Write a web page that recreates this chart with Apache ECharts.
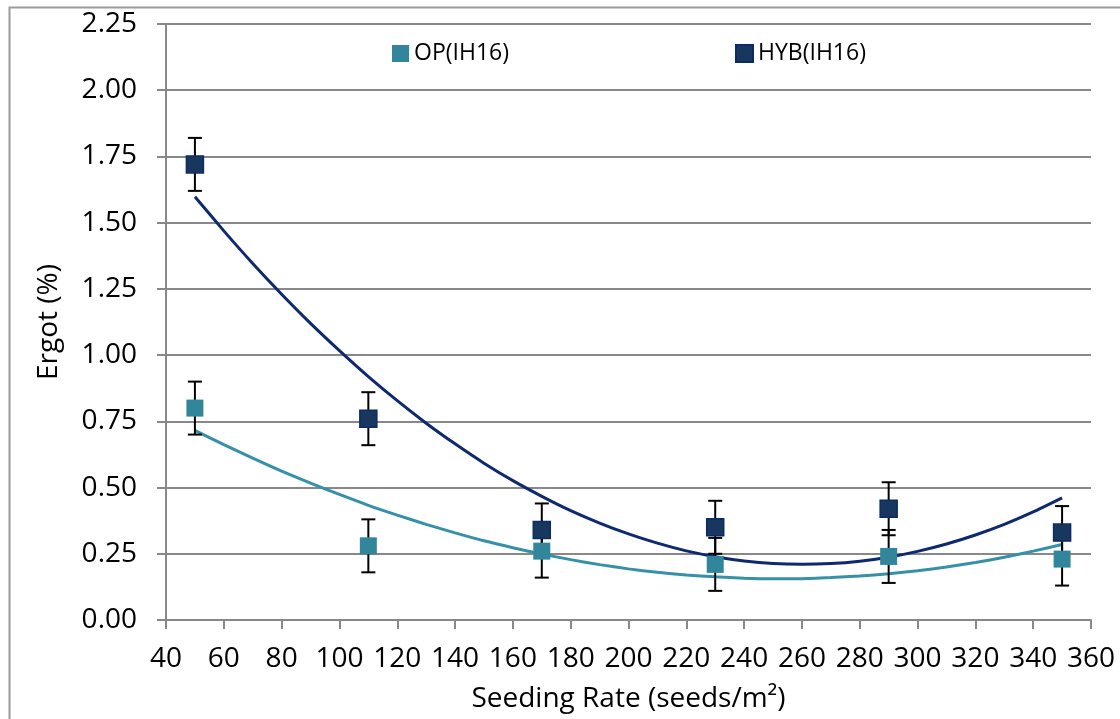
<!DOCTYPE html>
<html>
<head>
<meta charset="utf-8">
<script src="https://cdn.jsdelivr.net/npm/echarts@6/dist/echarts.min.js"></script>
<style>
  html, body { margin: 0; padding: 0; background: #fff; }
  #chart { width: 1120px; height: 719px; }
</style>
</head>
<body>
<div id="chart"></div>
<script>
// ---- Data ----
var seedingRates = [50, 110, 170, 230, 290, 350];
var opErgot  = [0.80, 0.28, 0.26, 0.21, 0.24, 0.23];
var hybErgot = [1.72, 0.76, 0.34, 0.35, 0.42, 0.33];
var opError  = [0.10, 0.10, 0.10, 0.10, 0.10, 0.10];
var hybError = [0.10, 0.10, 0.10, 0.10, 0.10, 0.10];

// trendline points (every 10 seeds/m²)
var trendX   = [50, 60, 70, 80, 90, 100, 110, 120, 130, 140, 150, 160, 170, 180, 190, 200,
                210, 220, 230, 240, 250, 260, 270, 280, 290, 300, 310, 320, 330, 340, 350];
var opTrend  = [0.716, 0.662, 0.611, 0.562, 0.517, 0.474, 0.433, 0.396, 0.361, 0.329, 0.299, 0.273, 0.249, 0.228, 0.209, 0.193,
                0.180, 0.170, 0.163, 0.158, 0.156, 0.156, 0.160, 0.166, 0.175, 0.186, 0.200, 0.217, 0.237, 0.260, 0.285];
var hybTrend = [1.598, 1.469, 1.346, 1.230, 1.120, 1.017, 0.919, 0.828, 0.743, 0.665, 0.592, 0.526, 0.467, 0.413, 0.366, 0.325,
                0.290, 0.261, 0.239, 0.223, 0.213, 0.210, 0.213, 0.222, 0.237, 0.259, 0.287, 0.321, 0.361, 0.408, 0.461];

var xTicks = { min: 40, max: 360, interval: 20 };
var yTicks = { min: 0, max: 2.25, interval: 0.25 };

var FONT = 'Open Sans';
var OP_COLOR = '#31869b';
var HYB_COLOR = '#17375e';
var HYB_BORDER = '#0c2a66';
var OP_LINE = '#3691a8';
var HYB_LINE = '#0e2a6e';

function pairs(xs, ys) { return xs.map(function (x, i) { return [x, ys[i]]; }); }
function errData(xs, ys, es) { return xs.map(function (x, i) { return [x, ys[i] - es[i], ys[i] + es[i]]; }); }

function errorBarRender(params, api) {
  var x = api.value(0), lo = api.value(1), hi = api.value(2);
  var pLo = api.coord([x, lo]), pHi = api.coord([x, hi]);
  var half = 7;
  var st = { stroke: '#000', lineWidth: 2 };
  return {
    type: 'group',
    children: [
      { type: 'line', shape: { x1: pLo[0], y1: pLo[1], x2: pHi[0], y2: pHi[1] }, style: st },
      { type: 'line', shape: { x1: pLo[0] - half, y1: pLo[1], x2: pLo[0] + half, y2: pLo[1] }, style: st },
      { type: 'line', shape: { x1: pHi[0] - half, y1: pHi[1], x2: pHi[0] + half, y2: pHi[1] }, style: st }
    ]
  };
}

var chart = echarts.init(document.getElementById('chart'), null, { renderer: 'canvas' });
chart.setOption({
  animation: false,
  backgroundColor: '#fff',
  textStyle: { fontFamily: FONT },
  graphic: [{
    type: 'rect', left: 7, top: 5, silent: true, z: 0,
    shape: { width: 1300, height: 900 },
    style: { fill: 'none', stroke: '#9a9a9a', lineWidth: 2 }
  }],
  grid: { left: 166, right: 29, top: 24, bottom: 99, containLabel: false },
  legend: [
    { data: ['OP(IH16)'], left: 387, top: 37, itemWidth: 17, itemHeight: 17, icon: 'rect',
      textStyle: { fontFamily: FONT, fontSize: 23, color: '#000' } },
    { data: ['HYB(IH16)'], left: 730, top: 37, itemWidth: 17, itemHeight: 17, icon: 'rect',
      textStyle: { fontFamily: FONT, fontSize: 23, color: '#000' } }
  ],
  xAxis: {
    type: 'value', min: xTicks.min, max: xTicks.max, interval: xTicks.interval,
    name: 'Seeding Rate (seeds/m²)', nameLocation: 'middle', nameGap: 65,
    nameTextStyle: { fontFamily: FONT, fontSize: 28, color: '#000' },
    axisLine: { show: true, lineStyle: { color: '#888', width: 2 } },
    axisTick: { show: true, inside: false, length: 9, lineStyle: { color: '#888', width: 2 } },
    axisLabel: { fontFamily: FONT, fontSize: 28, color: '#000', margin: 25 },
    splitLine: { show: false }
  },
  yAxis: {
    type: 'value', min: yTicks.min, max: yTicks.max, interval: yTicks.interval,
    name: 'Ergot (%)', nameLocation: 'middle', nameGap: 103,
    nameTextStyle: { fontFamily: FONT, fontSize: 28, color: '#000' },
    axisLine: { show: true, lineStyle: { color: '#888', width: 2 } },
    axisTick: { show: true, inside: false, length: 9, lineStyle: { color: '#888', width: 2 } },
    axisLabel: { fontFamily: FONT, fontSize: 28, color: '#000', margin: 29,
      formatter: function (v) { return v.toFixed(2); } },
    splitLine: { show: true, lineStyle: { color: '#888', width: 2 } }
  },
  series: [
    { name: 'OP trend', type: 'line', data: pairs(trendX, opTrend), smooth: 0.2, showSymbol: false,
      lineStyle: { color: OP_LINE, width: 3 }, z: 2, silent: true },
    { name: 'HYB trend', type: 'line', data: pairs(trendX, hybTrend), smooth: 0.2, showSymbol: false,
      lineStyle: { color: HYB_LINE, width: 3 }, z: 2, silent: true },
    { name: 'OP err', type: 'custom', renderItem: errorBarRender, data: errData(seedingRates, opErgot, opError),
      encode: { x: 0, y: [1, 2] }, z: 3, silent: true },
    { name: 'HYB err', type: 'custom', renderItem: errorBarRender, data: errData(seedingRates, hybErgot, hybError),
      encode: { x: 0, y: [1, 2] }, z: 3, silent: true },
    { name: 'OP(IH16)', type: 'scatter', data: pairs(seedingRates, opErgot), symbol: 'rect', symbolSize: 17,
      itemStyle: { color: OP_COLOR, opacity: 1 }, z: 4 },
    { name: 'HYB(IH16)', type: 'scatter', data: pairs(seedingRates, hybErgot), symbol: 'rect', symbolSize: 17,
      itemStyle: { color: HYB_COLOR, borderColor: HYB_BORDER, borderWidth: 1.5, opacity: 1 }, z: 4 }
  ]
});
</script>
</body>
</html>
